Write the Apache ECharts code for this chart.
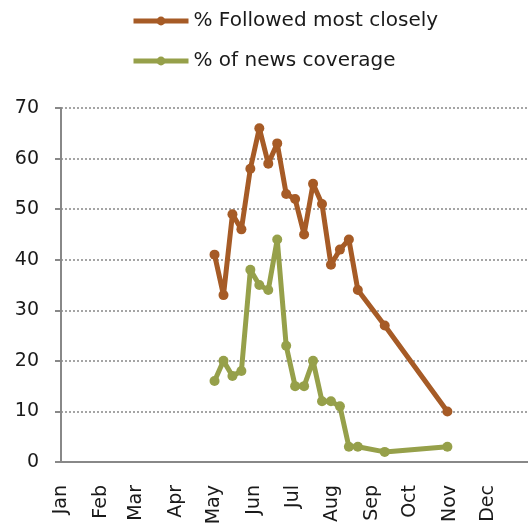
<!DOCTYPE html>
<html>
<head>
<meta charset="utf-8">
<script src="https://cdn.jsdelivr.net/npm/echarts@6/dist/echarts.min.js"></script>
<style>
  html, body { margin: 0; padding: 0; background: #fff; }
  #chart { width: 528px; height: 525px; }
</style>
</head>
<body>
<div id="chart"></div>
<script>
// weekly readings
const weeks = ["2009-05-01", "2009-05-08", "2009-05-15", "2009-05-22", "2009-05-29",
  "2009-06-05", "2009-06-12", "2009-06-19", "2009-06-26", "2009-07-03",
  "2009-07-10", "2009-07-17", "2009-07-24", "2009-07-31", "2009-08-07",
  "2009-08-14", "2009-08-21", "2009-09-11", "2009-10-30"];
const followed = [41, 33, 49, 46, 58, 66, 59, 63, 53, 52, 45, 55, 51, 39, 42, 44, 34, 27, 10];
const coverage = [16, 20, 17, 18, 38, 35, 34, 44, 23, 15, 15, 20, 12, 12, 11, 3, 3, 2, 3];
const monthNames = ["Jan", "Feb", "Mar", "Apr", "May", "Jun", "Jul", "Aug", "Sep", "Oct", "Nov", "Dec"];
const yTicks = [0, 10, 20, 30, 40, 50, 60, 70];

const font = "DejaVu Sans";
const chart = echarts.init(document.getElementById("chart"));

function pairs(values) {
  return weeks.map((d, i) => [d, values[i]]);
}

chart.setOption({
  animation: false,
  textStyle: { fontFamily: font },
  legend: {
    orient: "vertical",
    left: 131,
    top: 11,
    padding: 0,
    itemWidth: 55,
    itemHeight: 11,
    itemGap: 20,
    lineStyle: { width: 5 },
    textStyle: { fontSize: 20, color: "#1a1a1a", fontFamily: font },
    data: ["% Followed most closely", "% of news coverage"]
  },
  grid: { left: 61, right: 0, top: 108, bottom: 63, outerBoundsMode: "none" },
  xAxis: {
    type: "time",
    min: "2009-01-01",
    max: "2010-01-01",
    splitNumber: 12,
    minInterval: 28 * 86400000,
    maxInterval: 31 * 86400000,
    axisLine: { lineStyle: { color: "#888", width: 2 } },
    axisTick: { show: false },
    splitLine: { show: false },
    axisLabel: {
      rotate: 90,
      margin: 23,
      fontSize: 19,
      color: "#1a1a1a",
      fontFamily: font,
      showMaxLabel: false,
      formatter: v => monthNames[new Date(v).getMonth()]
    }
  },
  yAxis: {
    type: "value",
    min: yTicks[0],
    max: yTicks[yTicks.length - 1],
    interval: 10,
    axisLine: { show: true, lineStyle: { color: "#888", width: 2 } },
    axisTick: { show: true, length: 6, lineStyle: { color: "#888", width: 2 } },
    splitLine: { lineStyle: { color: "#888", type: [2, 2], width: 1.5 } },
    axisLabel: { margin: 22, fontSize: 19, color: "#1a1a1a", fontFamily: font }
  },
  series: [
    {
      name: "% Followed most closely",
      type: "line",
      data: pairs(followed),
      color: "#A65B26",
      lineStyle: { width: 5 },
      symbol: "circle",
      symbolSize: 10
    },
    {
      name: "% of news coverage",
      type: "line",
      data: pairs(coverage),
      color: "#96A04A",
      lineStyle: { width: 5 },
      symbol: "circle",
      symbolSize: 10
    }
  ]
});
</script>
</body>
</html>
